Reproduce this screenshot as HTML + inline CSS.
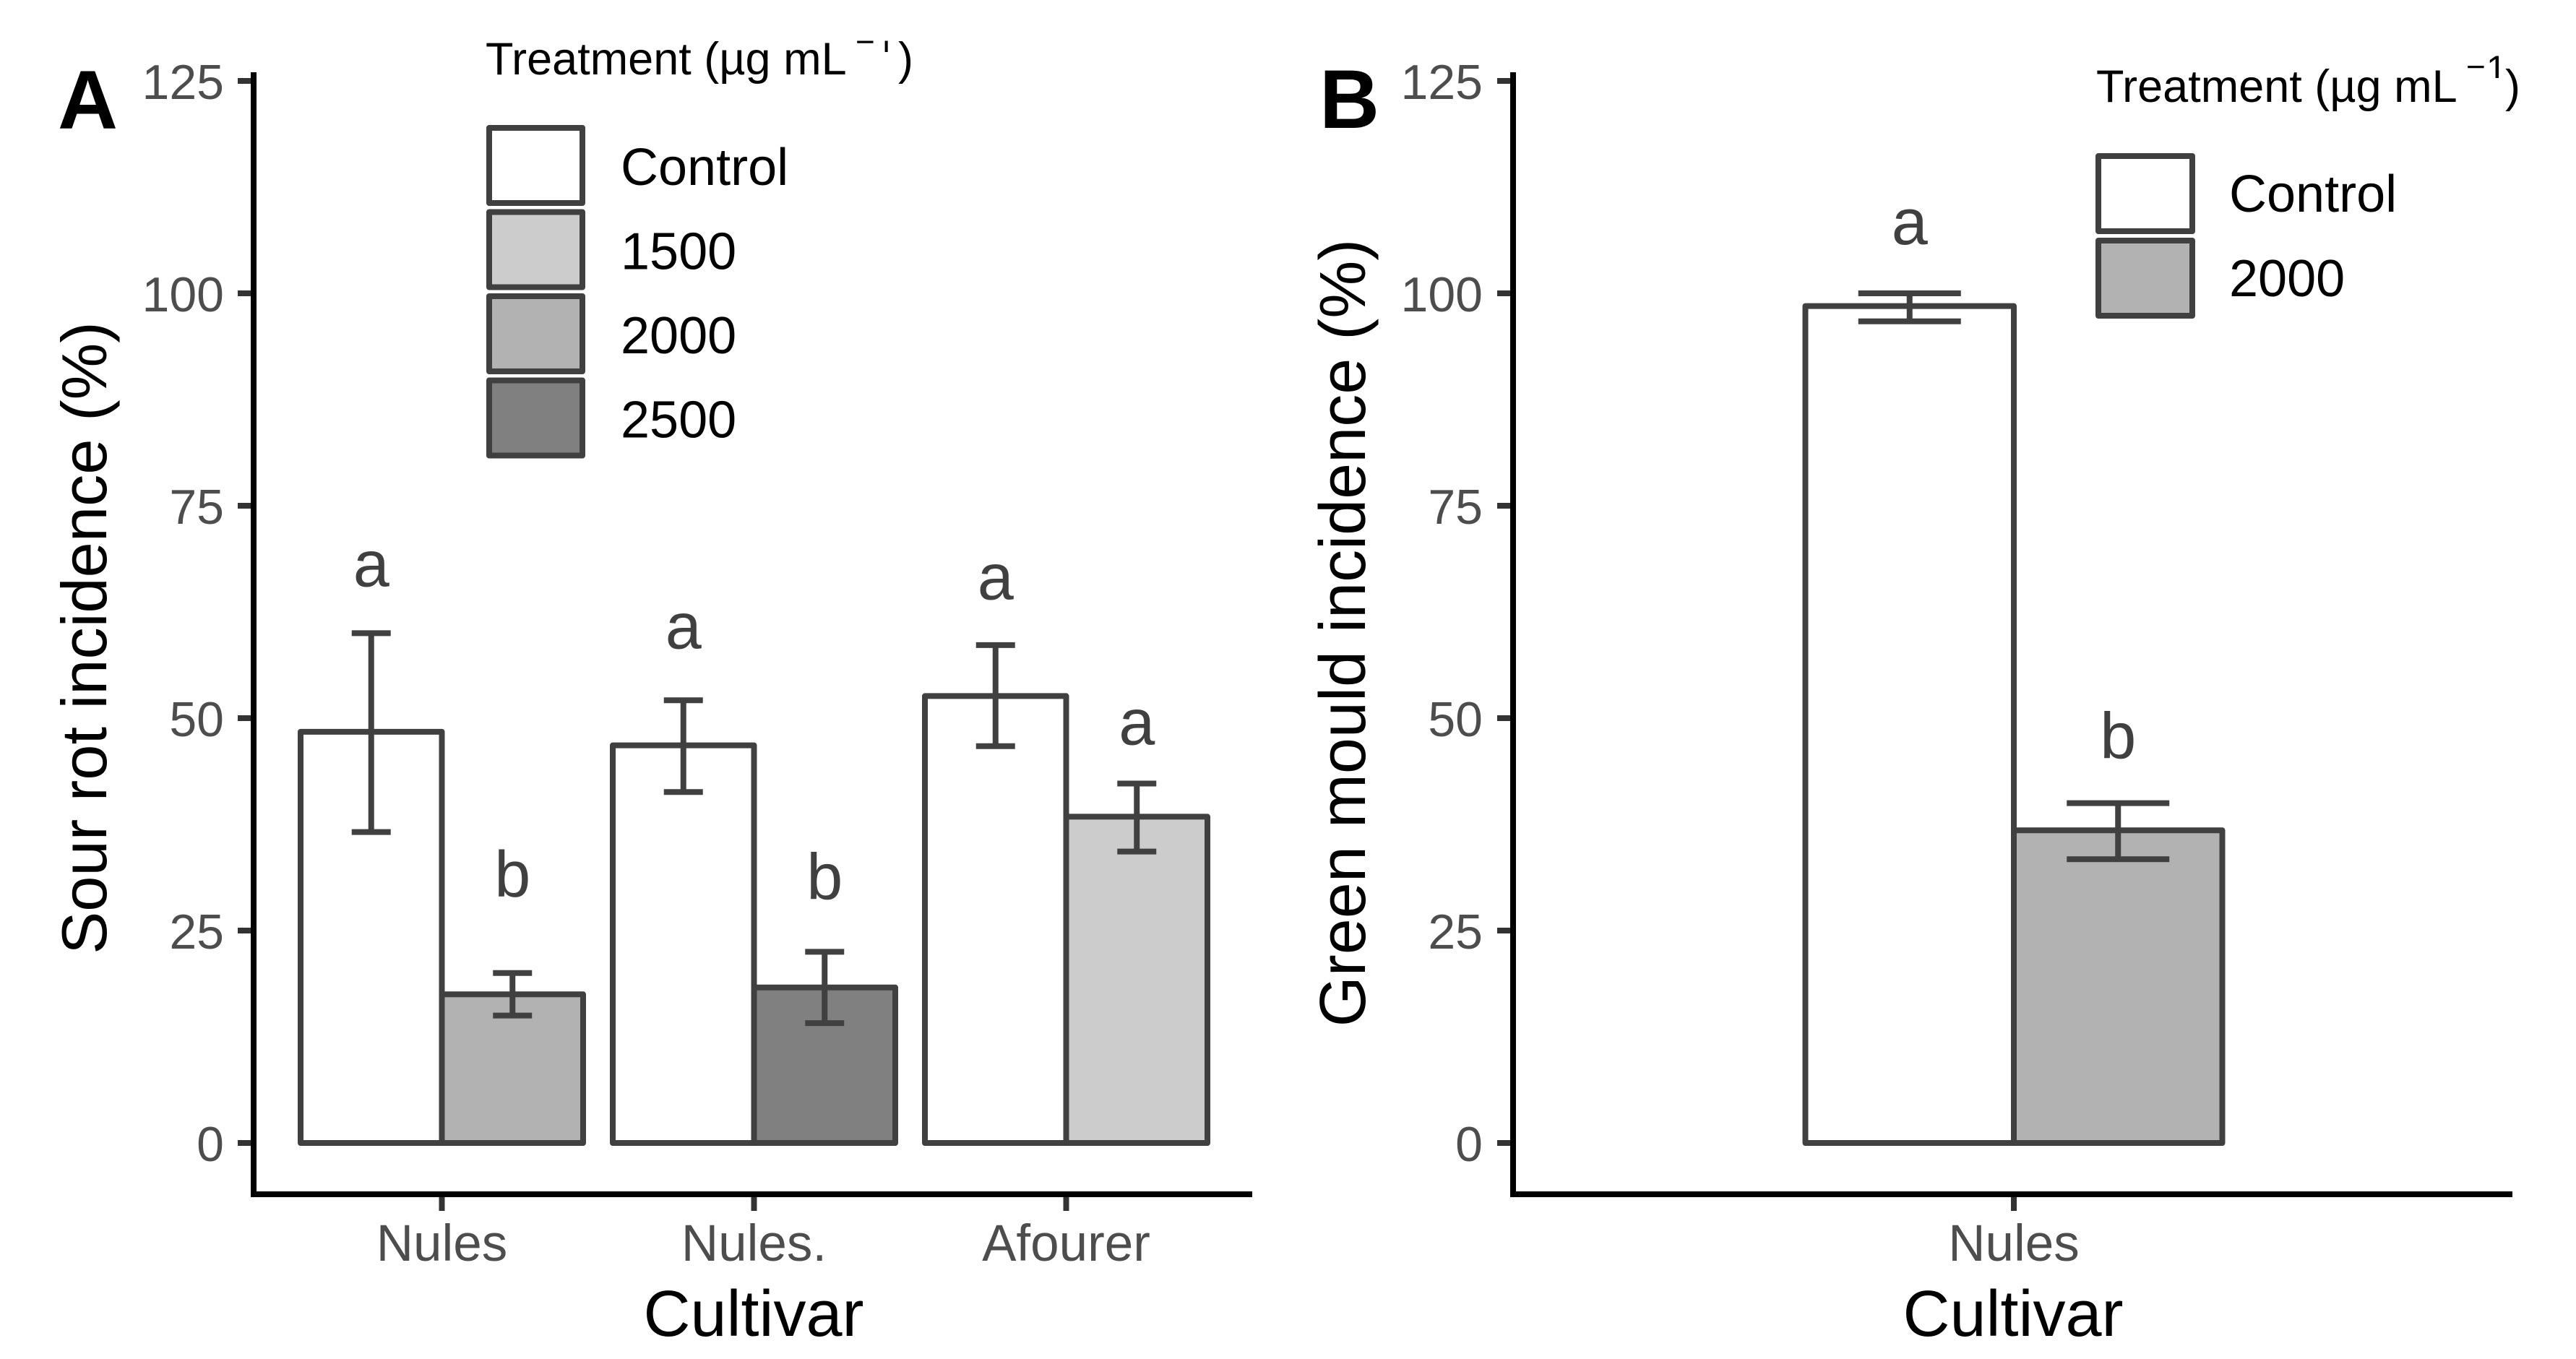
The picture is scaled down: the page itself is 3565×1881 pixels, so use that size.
<!DOCTYPE html>
<html lang="en">
<head>
<meta charset="utf-8">
<title>Sour rot and green mould incidence by cultivar</title>
<style>
html,body{margin:0;padding:0;background:#fff;}
svg{display:block;font-family:"Liberation Sans",Arial,sans-serif;}
.tick-label{fill:#4d4d4d;}
.mark-label{fill:#404040;font-size:90px;text-anchor:middle;}
.axis-title{fill:#000;}
.legend-title{fill:#000;font-size:63px;}
.legend-label{fill:#000;font-size:72px;}
.panel-tag{fill:#000;font-size:115px;font-weight:bold;}
</style>
</head>
<body>
<svg id="chart" xmlns="http://www.w3.org/2000/svg" width="3565" height="1881" viewBox="0 0 3565 1881">
  <defs>
    <clipPath id="clip-legend-a-title"><rect x="600" y="56.5" width="760" height="90"/></clipPath>
    <clipPath id="clip-legend-a-sup"><rect x="1205" y="56.5" width="40" height="15.5"/></clipPath>
    <clipPath id="clip-legend-b-sup"><rect x="3435" y="60" width="40" height="48"/></clipPath>
  </defs>
  <rect x="0" y="0" width="3565" height="1881" fill="#ffffff"/>
  <g id="panel-a"></g>
  <g id="panel-b"></g>

  <text class="panel-tag" x="80" y="178">A</text>
  <text class="panel-tag" x="1826" y="177">B</text>

  <text class="axis-title" font-size="88.5" text-anchor="middle" transform="translate(147 883) rotate(-90)">Sour rot incidence (%)</text>
  <text class="axis-title" font-size="90" text-anchor="middle" transform="translate(1889 876) rotate(-90)">Green mould incidence (%)</text>
  <text class="axis-title" font-size="90" text-anchor="middle" x="1043" y="1849">Cultivar</text>
  <text class="axis-title" font-size="90" text-anchor="middle" x="2786" y="1849">Cultivar</text>

  <g>
    <text class="legend-title" clip-path="url(#clip-legend-a-title)" x="672" y="103">Treatment (µg mL<tspan x="1184" y="73.5" font-size="46">−</tspan><tspan x="1243" y="103">)</tspan></text>
    <text class="legend-title" clip-path="url(#clip-legend-a-sup)" x="1213" y="78" font-size="46" style="font-size:46px">1</text>
  </g>
  <g>
    <text class="legend-title" x="2901" y="141">Treatment (µg mL<tspan x="3413" y="108" font-size="46">−</tspan><tspan x="3467" y="141">)</tspan></text>
    <text class="legend-title" clip-path="url(#clip-legend-b-sup)" x="3441" y="112" style="font-size:50px">1</text>
  </g>
</svg>
<script>
// Axis ticks (shared by both panels)
const yTickValues = [0, 25, 50, 75, 100, 125];

// Panel A data
const cultivarsA = ['Nules', 'Nules.', 'Afourer'];
const controlMeansA = [48.4, 46.8, 52.6];
const controlUpperA = [60.0, 52.1, 58.6];
const controlLowerA = [36.6, 41.3, 46.7];
const controlLettersA = ['a', 'a', 'a'];
const controlLetterValuesA = [65.5, 58.2, 64.0];
const treatedMeansA = [17.5, 18.3, 38.4];
const treatedUpperA = [20.0, 22.5, 42.3];
const treatedLowerA = [15.0, 14.1, 34.3];
const treatedDosesA = ['2000', '2500', '1500'];
const treatedLettersA = ['b', 'b', 'a'];
const treatedLetterValuesA = [29.0, 28.7, 46.9];
const legendLabelsA = ['Control', '1500', '2000', '2500'];

// Panel B data
const cultivarsB = ['Nules'];
const controlMeansB = [98.5];
const controlUpperB = [100.0];
const controlLowerB = [96.7];
const controlLettersB = ['a'];
const controlLetterValuesB = [105.8];
const treatedMeansB = [36.8];
const treatedUpperB = [40.0];
const treatedLowerB = [33.4];
const treatedDosesB = ['2000'];
const treatedLettersB = ['b'];
const treatedLetterValuesB = [45.3];
const legendLabelsB = ['Control', '2000'];

// Styling
const fillByDose = {'Control': '#ffffff', '1500': '#cccccc', '2000': '#b2b2b2', '2500': '#808080'};
const INK = '#404040';
const NS = 'http://www.w3.org/2000/svg';

function yScale(v) { return 1582 - v * 11.76; }

function make(parent, tag, props, text) {
  const el = document.createElementNS(NS, tag);
  for (const k in props) el.setAttribute(k, props[k]);
  if (text !== undefined) el.textContent = text;
  parent.appendChild(el);
  return el;
}

function drawPanel(cfg) {
  const g = document.getElementById(cfg.id);
  const xCenter = i => cfg.x0 + cfg.step * i;

  // y axis ticks + labels
  yTickValues.forEach(v => {
    const tick = make(g, 'line', {x1: cfg.axisX - 22, x2: cfg.axisX, y1: yScale(v), y2: yScale(v), stroke: '#333333', 'stroke-width': 8});
    
    
    const lab = make(g, 'text', {x: cfg.axisX - cfg.yLabelGap, y: yScale(v) + 25, 'text-anchor': 'end', 'font-size': 68, class: 'tick-label'}, String(v));
    
    
  });

  // x ticks + labels
  cfg.cultivars.forEach((c, i) => {
    const tick = make(g, 'line', {x1: xCenter(i), x2: xCenter(i), y1: 1653, y2: 1676, stroke: '#333333', 'stroke-width': 8});
    
    
    const lab = make(g, 'text', {x: xCenter(i), y: 1745, 'text-anchor': 'middle', 'font-size': 71, class: 'tick-label'}, c);
    
    
  });

  // bars, error bars, letters
  cfg.cultivars.forEach((c, i) => {
    const groups = [
      {key: 'control', left: xCenter(i) - cfg.barW, dose: 'Control', mean: cfg.controlMeans[i], up: cfg.controlUpper[i], lo: cfg.controlLower[i], letter: cfg.controlLetters[i], letterV: cfg.controlLetterValues[i]},
      {key: 'treated', left: xCenter(i), dose: cfg.treatedDoses[i], mean: cfg.treatedMeans[i], up: cfg.treatedUpper[i], lo: cfg.treatedLower[i], letter: cfg.treatedLetters[i], letterV: cfg.treatedLetterValues[i]}
    ];
    groups.forEach(b => {
      const bar = make(g, 'rect', {x: b.left, y: yScale(b.mean), width: cfg.barW, height: yScale(0) - yScale(b.mean), fill: fillByDose[b.dose], stroke: INK, 'stroke-width': 8, 'stroke-linejoin': 'round'});
      
      
    });
    groups.forEach(b => {
      const mid = b.left + cfg.barW / 2;
      const err = make(g, 'path', {
        d: 'M' + (mid - cfg.capW / 2) + ' ' + yScale(b.up) + 'H' + (mid + cfg.capW / 2) +
           'M' + mid + ' ' + yScale(b.up) + 'V' + yScale(b.lo) +
           'M' + (mid - cfg.capW / 2) + ' ' + yScale(b.lo) + 'H' + (mid + cfg.capW / 2),
        fill: 'none', stroke: INK, 'stroke-width': 8});
      
      
      const letter = make(g, 'text', {x: mid, y: yScale(b.letterV), class: 'mark-label'}, b.letter);
      
      
    });
  });

  // axis lines
  const yAxis = make(g, 'line', {x1: cfg.axisX, x2: cfg.axisX, y1: 100, y2: 1657, stroke: '#000', 'stroke-width': 8});
  
  
  const xAxis = make(g, 'line', {x1: cfg.axisX - 4, x2: cfg.axisEnd, y1: 1653, y2: 1653, stroke: '#000', 'stroke-width': 8});
  
  

  // legend
  cfg.legendLabels.forEach((label, i) => {
    const top = cfg.legendTop + cfg.legendStep * i;
    const key = make(g, 'rect', {x: cfg.legendX + 4, y: top + 4, width: cfg.keyW - 8, height: cfg.keyH - 8, fill: fillByDose[label], stroke: INK, 'stroke-width': 8, 'stroke-linejoin': 'round'});
    
    
    const txt = make(g, 'text', {x: cfg.legendTextX, y: top + cfg.legendBaseline, class: 'legend-label'}, label);
    
    
  });
}

drawPanel({
  id: 'panel-a', prefix: 'panel-a', axisX: 351, axisEnd: 1733, yLabelGap: 41,
  x0: 611.5, step: 432, barW: 195.5, capW: 54,
  cultivars: cultivarsA,
  controlMeans: controlMeansA, controlUpper: controlUpperA, controlLower: controlLowerA,
  controlLetters: controlLettersA, controlLetterValues: controlLetterValuesA,
  treatedMeans: treatedMeansA, treatedUpper: treatedUpperA, treatedLower: treatedLowerA,
  treatedDoses: treatedDosesA, treatedLetters: treatedLettersA, treatedLetterValues: treatedLetterValuesA,
  legendLabels: legendLabelsA, legendX: 673, legendTop: 173, legendStep: 116.5, keyW: 137, keyH: 112,
  legendTextX: 859, legendBaseline: 83
});

drawPanel({
  id: 'panel-b', prefix: 'panel-b', axisX: 2094, axisEnd: 3477, yLabelGap: 42,
  x0: 2787, step: 432, barW: 288.5, capW: 142,
  cultivars: cultivarsB,
  controlMeans: controlMeansB, controlUpper: controlUpperB, controlLower: controlLowerB,
  controlLetters: controlLettersB, controlLetterValues: controlLetterValuesB,
  treatedMeans: treatedMeansB, treatedUpper: treatedUpperB, treatedLower: treatedLowerB,
  treatedDoses: treatedDosesB, treatedLetters: treatedLettersB, treatedLetterValues: treatedLetterValuesB,
  legendLabels: legendLabelsB, legendX: 2900, legendTop: 212, legendStep: 117, keyW: 138, keyH: 112,
  legendTextX: 3085, legendBaseline: 81
});
</script>
</body>
</html>
